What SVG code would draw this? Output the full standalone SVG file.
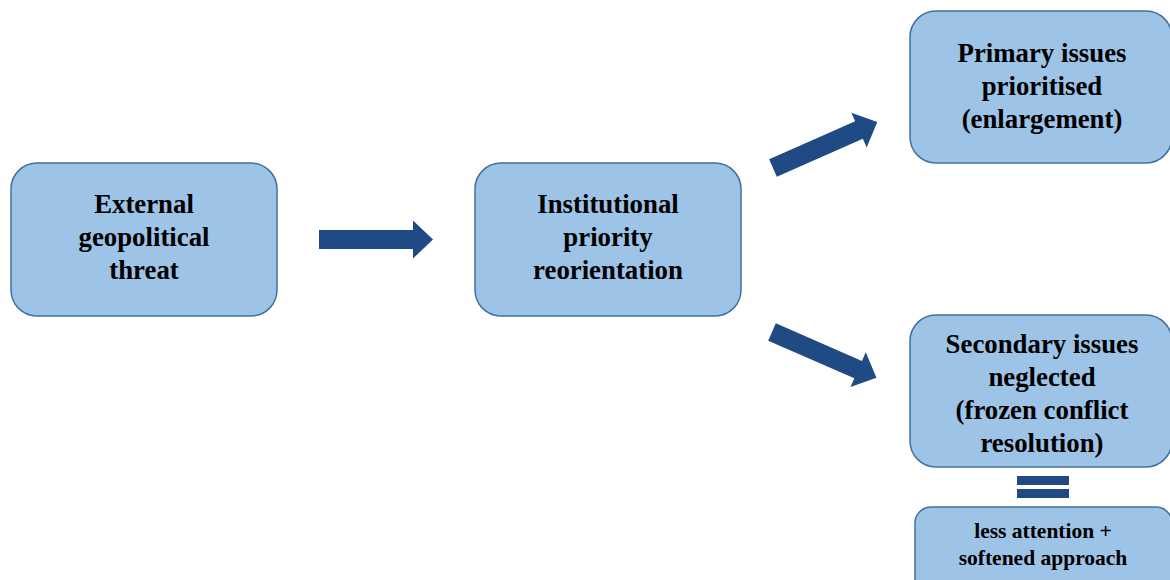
<svg xmlns="http://www.w3.org/2000/svg" width="1170" height="580" viewBox="0 0 1170 580">
<defs>
<style>
.box{fill:#9dc3e6;stroke:#41719c;stroke-width:1.5}
.t{font-family:"Liberation Serif","Times New Roman",serif;font-weight:bold;font-size:26.8px;fill:#000;text-anchor:middle}
.s{font-size:21.5px}
.arr{fill:#1f4a84}
</style>
<path id="arrow" d="M0,-9.5 H94 V-19 L114,0 L94,19 V9.5 H0 Z"/>
</defs>
<rect width="1170" height="580" fill="#fff"/>
<g id="connectors" class="arr">
<use href="#arrow" transform="translate(319,239.5)"/>
<use href="#arrow" transform="translate(773,168) rotate(-23.8)"/>
<use href="#arrow" transform="translate(772,332) rotate(23.6)"/>
<rect x="1017" y="476" width="52" height="9"/>
<rect x="1017" y="489" width="52" height="9"/>
</g>
<g id="n1">
<rect class="box" x="11" y="163" width="266" height="153" rx="26"/>
<text class="t" x="144" y="213">External</text>
<text class="t" x="144" y="246">geopolitical</text>
<text class="t" x="144" y="279">threat</text>
</g>
<g id="n2">
<rect class="box" x="475" y="163" width="266" height="153" rx="26"/>
<text class="t" x="608" y="213">Institutional</text>
<text class="t" x="608" y="246">priority</text>
<text class="t" x="608" y="279">reorientation</text>
</g>
<g id="n3">
<rect class="box" x="910" y="11" width="262" height="152" rx="26"/>
<text class="t" x="1042" y="62">Primary issues</text>
<text class="t" x="1042" y="95">prioritised</text>
<text class="t" x="1042" y="128">(enlargement)</text>
</g>
<g id="n4">
<rect class="box" x="910" y="315" width="262" height="152" rx="26"/>
<text class="t" x="1042" y="353">Secondary issues</text>
<text class="t" x="1042" y="386">neglected</text>
<text class="t" x="1042" y="419">(frozen conflict</text>
<text class="t" x="1042" y="452">resolution)</text>
</g>
<g id="n5">
<rect class="box" x="915" y="507" width="257" height="90" rx="16"/>
<text class="t s" x="1043" y="538">less attention +</text>
<text class="t s" x="1043" y="565">softened approach</text>
</g>
</svg>
